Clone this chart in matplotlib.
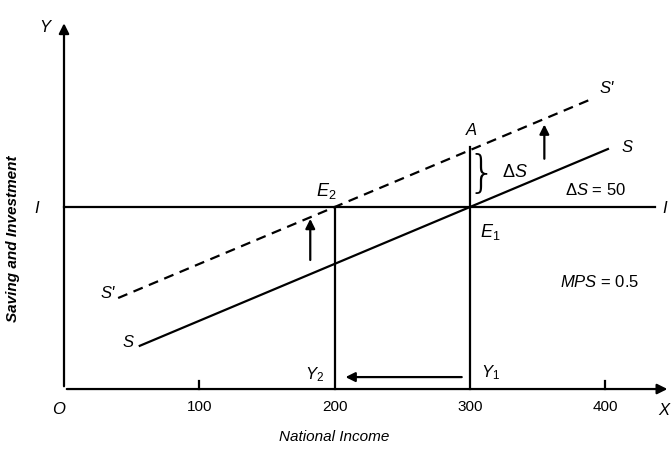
import matplotlib
matplotlib.use("Agg")
import matplotlib.pyplot as plt
import numpy as np

# Diagram values (national income on x, saving/investment on y)
investment = 160
mps = 0.5
autonomous = 10
delta_s = 50
x_ticks = [100, 200, 300, 400]
s_range = [56, 402]
s_dash_range = [40, 389]
y1, y2 = 300, 200

plt.rcParams['font.family'] = ['Liberation Sans', 'DejaVu Sans']
plt.rcParams['mathtext.fontset'] = 'custom'
plt.rcParams['mathtext.it'] = 'Liberation Sans:italic'
plt.rcParams['mathtext.rm'] = 'Liberation Sans'

fig = plt.figure(figsize=(6.71, 4.5), dpi=100)
ax = fig.add_axes([0, 0, 1, 1])
ax.set_xlim(-47.3, 448.6)
ax.set_ylim(-53.6, 342)
ax.axis('off')

lw = 1.6
it = dict(style='italic', fontsize=12, color='black')


def saving(x, shift=0):
    return autonomous + mps * np.asarray(x) + shift


# axes with arrows
ax.annotate('', xy=(448, 0), xytext=(0, 0),
            arrowprops=dict(arrowstyle='-|>', lw=lw, color='black', mutation_scale=15))
ax.annotate('', xy=(0, 324), xytext=(0, 0),
            arrowprops=dict(arrowstyle='-|>', lw=lw, color='black', mutation_scale=15))

for t in x_ticks:
    if t in (100, 400):
        ax.plot([t, t], [0, 7], color='black', lw=lw)
    ax.text(t, -16, str(t), ha='center', va='center', fontsize=11)

ax.text(-4, -18, 'O', ha='center', va='center', **it)
ax.text(443, -19, 'X', ha='center', va='center', **it)
ax.text(-14, 318, 'Y', ha='center', va='center', **it)

# investment line
ax.plot([0, 437], [investment, investment], color='black', lw=lw)
ax.text(-20, investment - 1, 'I', ha='center', va='center', **it)
ax.text(444, investment - 1, 'I', ha='center', va='center', **it)

# saving schedules
sx = np.array(s_range)
ax.plot(sx, saving(sx), color='black', lw=lw)
sdx = np.array(s_dash_range)
ax.plot(sdx, saving(sdx, delta_s), color='black', lw=lw, ls=(0, (4.5, 3)))

ax.text(s_range[0] - 9, saving(s_range[0]) + 3, 'S', ha='center', va='center', **it)
ax.text(s_range[1] + 14, saving(s_range[1]) + 1, 'S', ha='center', va='center', **it)
ax.text(s_dash_range[0] - 8, saving(s_dash_range[0], delta_s) + 4, "S'", ha='center', va='center', **it)
ax.text(s_dash_range[1] + 12, saving(s_dash_range[1], delta_s) + 10, "S'", ha='center', va='center', **it)

# verticals at Y1 and Y2
ax.plot([y2, y2], [0, investment], color='black', lw=lw)
ax.plot([y1, y1], [0, investment + delta_s + 3], color='black', lw=lw)

ax.text(y2 - 15, 13, r'$Y_2$', ha='center', va='center', fontsize=12)
ax.text(y1 + 15, 14, r'$Y_1$', ha='center', va='center', fontsize=12)
ax.annotate('', xy=(206, 10.5), xytext=(296, 10.5),
            arrowprops=dict(arrowstyle='-|>', lw=lw, color='black', mutation_scale=14))

# labels
ax.text(y2 - 6, investment + 14, r'$E_2$', ha='center', va='center', fontsize=13)
ax.text(y1 + 15, investment - 22, r'$E_1$', ha='center', va='center', fontsize=13)
ax.text(y1 + 1, investment + delta_s + 17, 'A', ha='center', va='center', **it)
ax.text(y1 + 9, investment + delta_s / 2 + 4, '}', ha='center', va='center',
        fontsize=32, family='DejaVu Sans', fontweight='light')
ax.text(y1 + 33, investment + 30, r'$\Delta S$', ha='center', va='center', fontsize=13)
ax.text(393, investment + 15, r'$\Delta S$ = 50', ha='center', va='center', fontsize=12)
ax.text(396, 94, r'$MPS$ = 0.5', ha='center', va='center', fontsize=12)

# upward shift arrows
ax.annotate('', xy=(182, 152), xytext=(182, 111),
            arrowprops=dict(arrowstyle='-|>', lw=lw, color='black', mutation_scale=14))
ax.annotate('', xy=(355, 235), xytext=(355, 200),
            arrowprops=dict(arrowstyle='-|>', lw=lw, color='black', mutation_scale=14))

ax.text(-38, 132, 'Saving and Investment', rotation=90, ha='center', va='center',
        style='italic', fontweight='bold', fontsize=11)
ax.text(200, -42, 'National Income', ha='center', va='center', style='italic', fontsize=11)

fig.savefig('out.png', dpi=100)
